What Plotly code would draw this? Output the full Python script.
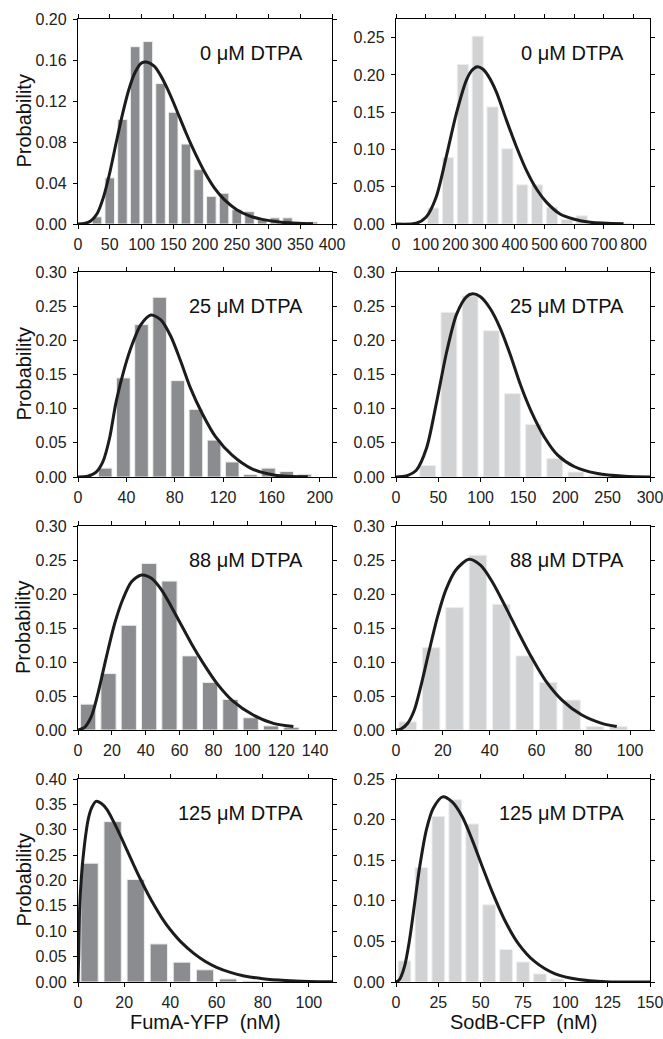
import plotly.graph_objects as go

# ---------------- data ----------------
# FumA-YFP, 0 uM DTPA
fuma0_bin_x = [30, 50, 70, 90, 110, 130, 150, 170, 190, 210, 230, 250, 270, 290, 310, 330, 350, 370]
fuma0_bin_p = [0.007, 0.045, 0.102, 0.173, 0.178, 0.137, 0.109, 0.078, 0.053, 0.027, 0.030, 0.014, 0.012, 0.004, 0.006, 0.006, 0.002, 0.002]
fuma0_fit_x = [0, 10, 20, 30, 40, 50, 60, 70, 80, 90, 100, 108, 120, 130, 140, 150, 160, 170, 180, 190, 200, 215, 230, 250, 270, 290, 320, 370]
fuma0_fit_p = [0, 0.0005, 0.003, 0.010, 0.026, 0.050, 0.079, 0.107, 0.131, 0.148, 0.157, 0.158, 0.154, 0.145, 0.133, 0.119, 0.104, 0.089, 0.075, 0.062, 0.050, 0.035, 0.024, 0.014, 0.008, 0.0045, 0.0018, 0.0003]

# SodB-CFP, 0 uM DTPA
sodb0_bin_x = [125, 175, 225, 275, 325, 375, 425, 475, 525, 575, 625, 675, 775]
sodb0_bin_p = [0.0215, 0.089, 0.214, 0.252, 0.157, 0.101, 0.0525, 0.0525, 0.0225, 0.006, 0.011, 0.001, 0.001]
sodb0_fit_x = [0, 68, 101, 135, 169, 203, 237, 255, 274, 292, 310, 338, 372, 406, 439, 473, 507, 552, 597, 654, 766]
sodb0_fit_p = [0, 0.001, 0.009, 0.036, 0.090, 0.148, 0.193, 0.206, 0.211, 0.208, 0.199, 0.177, 0.139, 0.103, 0.072, 0.047, 0.029, 0.0135, 0.0067, 0.0022, 0.0002]

# FumA-YFP, 25 uM DTPA
fuma25_bin_x = [22.5, 37.5, 52.5, 67.5, 82.5, 97.5, 112.5, 127.5, 142.5, 157.5, 172.5, 187.5]
fuma25_bin_p = [0.013, 0.145, 0.223, 0.263, 0.141, 0.099, 0.054, 0.022, 0.0035, 0.013, 0.008, 0.004]
fuma25_fit_x = [0, 8, 15, 20.5, 26, 31.5, 38.4, 45.2, 52, 60.3, 68.5, 76.7, 85, 93, 102.7, 113.7, 127.4, 143.8, 163, 190]
fuma25_fit_p = [0, 0.001, 0.007, 0.022, 0.056, 0.110, 0.159, 0.196, 0.223, 0.237, 0.230, 0.206, 0.169, 0.130, 0.093, 0.059, 0.032, 0.012, 0.0025, 0.0003]

# SodB-CFP, 25 uM DTPA
sodb25_bin_x = [37.5, 62.5, 87.5, 112.5, 137.5, 162.5, 187.5, 212.5, 237.5]
sodb25_bin_p = [0.017, 0.241, 0.265, 0.214, 0.122, 0.077, 0.027, 0.0073, 0.002]
sodb25_fit_x = [0, 12, 24, 36, 48, 60, 71.5, 83.4, 90.6, 99.3, 111, 123, 135, 147, 159, 175, 191, 211, 238, 270, 300]
sodb25_fit_p = [0, 0.0015, 0.010, 0.042, 0.110, 0.184, 0.238, 0.264, 0.268, 0.264, 0.247, 0.218, 0.179, 0.135, 0.098, 0.059, 0.032, 0.015, 0.005, 0.001, 0]

# FumA-YFP, 88 uM DTPA
fuma88_bin_x = [6, 18, 30, 42, 54, 66, 78, 90, 102, 114, 126]
fuma88_bin_p = [0.038, 0.083, 0.154, 0.245, 0.219, 0.109, 0.070, 0.045, 0.018, 0.006, 0.004]
fuma88_fit_x = [0, 3.9, 7.9, 11.8, 16.8, 21.7, 26.6, 31.6, 37.5, 43.4, 49.3, 55.2, 61.1, 67, 74, 81.9, 91.7, 103.5, 115.4, 127.2]
fuma88_fit_p = [0, 0.004, 0.020, 0.054, 0.108, 0.157, 0.193, 0.218, 0.228, 0.223, 0.206, 0.181, 0.154, 0.127, 0.098, 0.069, 0.042, 0.022, 0.0098, 0.005]

# SodB-CFP, 88 uM DTPA
sodb88_bin_x = [5, 15, 25, 35, 45, 55, 65, 75, 85, 95]
sodb88_bin_p = [0.012, 0.121, 0.180, 0.257, 0.185, 0.109, 0.070, 0.044, 0.005, 0.005]
sodb88_fit_x = [0, 2.1, 5, 7.8, 10.6, 14.2, 17.7, 21.3, 25.5, 31.2, 36.2, 41.1, 46.8, 52.5, 58.2, 63.8, 70.9, 79.4, 87.9, 94.3]
sodb88_fit_p = [0, 0.0015, 0.010, 0.029, 0.064, 0.117, 0.166, 0.206, 0.235, 0.251, 0.242, 0.218, 0.181, 0.142, 0.105, 0.073, 0.044, 0.022, 0.0098, 0.005]

# FumA-YFP, 125 uM DTPA
fuma125_bin_x = [5, 15, 25, 35, 45, 55, 65, 75, 85]
fuma125_bin_p = [0.234, 0.316, 0.202, 0.075, 0.039, 0.024, 0.006, 0.002, 0.001]
fuma125_fit_x = [0, 0.3, 0.7, 1.5, 2.9, 4.4, 5.9, 7.8, 10, 12.5, 15.4, 18, 21, 24, 27, 30, 33, 36.5, 40, 45, 50, 55, 60, 66, 72, 80, 90, 100, 110]
fuma125_fit_p = [0, 0.05, 0.143, 0.208, 0.274, 0.320, 0.343, 0.356, 0.352, 0.340, 0.316, 0.292, 0.262, 0.232, 0.203, 0.176, 0.151, 0.125, 0.103, 0.077, 0.057, 0.041, 0.029, 0.019, 0.012, 0.0065, 0.003, 0.0012, 0.0004]

# SodB-CFP, 125 uM DTPA
sodb125_bin_x = [5, 15, 25, 35, 45, 55, 65, 75, 85, 95]
sodb125_bin_p = [0.026, 0.141, 0.204, 0.2245, 0.1946, 0.095, 0.040, 0.0246, 0.0099, 0.0037]
sodb125_fit_x = [0, 2, 5, 8, 11, 14, 18, 22, 27.6, 33, 39, 45, 51, 57, 64, 72, 82, 94, 108, 124, 150]
sodb125_fit_p = [0, 0.003, 0.019, 0.052, 0.097, 0.142, 0.188, 0.214, 0.228, 0.222, 0.204, 0.175, 0.142, 0.110, 0.077, 0.048, 0.025, 0.010, 0.003, 0.0004, 0]

panel_labels = ["0 \u03bcM DTPA", "25 \u03bcM DTPA", "88 \u03bcM DTPA", "125 \u03bcM DTPA"]
x_titles = ["FumA-YFP  (nM)", "SodB-CFP  (nM)"]
y_title = "Probability"

# per panel: (bins x, bins p, fit x, fit p, x range, x dtick, y range, y dtick)
panels = [
    (fuma0_bin_x, fuma0_bin_p, fuma0_fit_x, fuma0_fit_p, [0, 400], 50, [0, 0.20], 0.04),
    (sodb0_bin_x, sodb0_bin_p, sodb0_fit_x, sodb0_fit_p, [0, 855], 100, [0, 0.275], 0.05),
    (fuma25_bin_x, fuma25_bin_p, fuma25_fit_x, fuma25_fit_p, [0, 210], 40, [0, 0.30], 0.05),
    (sodb25_bin_x, sodb25_bin_p, sodb25_fit_x, sodb25_fit_p, [0, 300], 50, [0, 0.30], 0.05),
    (fuma88_bin_x, fuma88_bin_p, fuma88_fit_x, fuma88_fit_p, [0, 150], 20, [0, 0.30], 0.05),
    (sodb88_bin_x, sodb88_bin_p, sodb88_fit_x, sodb88_fit_p, [0, 108.5], 20, [0, 0.30], 0.05),
    (fuma125_bin_x, fuma125_bin_p, fuma125_fit_x, fuma125_fit_p, [0, 110], 20, [0, 0.40], 0.05),
    (sodb125_bin_x, sodb125_bin_p, sodb125_fit_x, sodb125_fit_p, [0, 150], 25, [0, 0.25], 0.05),
]

# ---------------- layout geometry (pixels) ----------------
W, H = 663, 1039
col_px = [(78, 332), (396, 650)]
row_px = [(19, 224), (272, 477), (526, 730), (779, 982)]
bar_colors = ["#8b8c8f", "#d1d2d4"]
FONT = "Liberation Sans, Arial, Helvetica, sans-serif"

fig = go.Figure()
layout = dict(
    width=W, height=H,
    margin=dict(l=0, r=0, t=0, b=0, autoexpand=False),
    paper_bgcolor="white", plot_bgcolor="white",
    showlegend=False, bargap=0.25,
    font=dict(family=FONT, size=16, color="#222"),
)
annotations = []

for i, (bx, bp, fx, fp, xr, xdt, yr, ydt) in enumerate(panels):
    r, c = divmod(i, 2)
    n = i + 1
    xa = "x" if n == 1 else f"x{n}"
    ya = "y" if n == 1 else f"y{n}"
    fig.add_trace(go.Bar(
        x=bx, y=bp, xaxis=xa, yaxis=ya,
        marker=dict(color=bar_colors[c], line=dict(color="#ededed", width=1)),
    ))
    fig.add_trace(go.Scatter(
        x=fx, y=fp, xaxis=xa, yaxis=ya, mode="lines",
        line=dict(color="#1c1c1c", width=3, shape="spline", smoothing=0.8),
    ))
    x0, x1 = col_px[c]
    y0, y1 = row_px[r]
    axis_common = dict(
        showline=True, linecolor="black", linewidth=1.3, mirror="allticks",
        ticks="outside", ticklen=4, tickwidth=1.2, tickcolor="black",
        showgrid=False, zeroline=False, fixedrange=True, automargin=False,
        ticklabeloverflow="allow",
        tickfont=dict(family=FONT, size=16, color="#222"),
    )
    layout["xaxis" if n == 1 else f"xaxis{n}"] = dict(
        axis_common, domain=[x0 / W, x1 / W], range=xr, anchor=ya,
        tick0=0, dtick=xdt, ticklabelstandoff=2,
    )
    layout["yaxis" if n == 1 else f"yaxis{n}"] = dict(
        axis_common, domain=[1 - y1 / H, 1 - y0 / H], range=yr, anchor=xa,
        tick0=0, dtick=ydt, tickformat=".2f", ticklabelstandoff=3,
    )
    # condition label
    annotations.append(dict(
        text=panel_labels[r], xref=f"{xa} domain", yref=f"{ya} domain",
        x=1 - (27 if c == 0 else 24) / (x1 - x0), y=1 - 34 / (y1 - y0),
        xanchor="right", yanchor="middle", showarrow=False,
        font=dict(family=FONT, size=20, color="#111"),
    ))
    if c == 0:
        annotations.append(dict(
            text=y_title, xref=f"{xa} domain", yref=f"{ya} domain",
            x=0, y=0.5, xshift=-55, textangle=-90,
            xanchor="center", yanchor="middle", showarrow=False,
            font=dict(family=FONT, size=20, color="#111"),
        ))
    if r == 3:
        annotations.append(dict(
            text=x_titles[c], xref=f"{xa} domain", yref=f"{ya} domain",
            x=0.5, y=0, yshift=-40,
            xanchor="center", yanchor="middle", showarrow=False,
            font=dict(family=FONT, size=20, color="#111"),
        ))

layout["annotations"] = annotations
fig.update_layout(**layout)
# remove the default page margin so the figure sits at the window's top-left corner
fig.write_html(
    "out.html",
    config={"displayModeBar": False},
    post_script="document.body.style.margin='0';document.body.style.overflow='hidden';",
)
